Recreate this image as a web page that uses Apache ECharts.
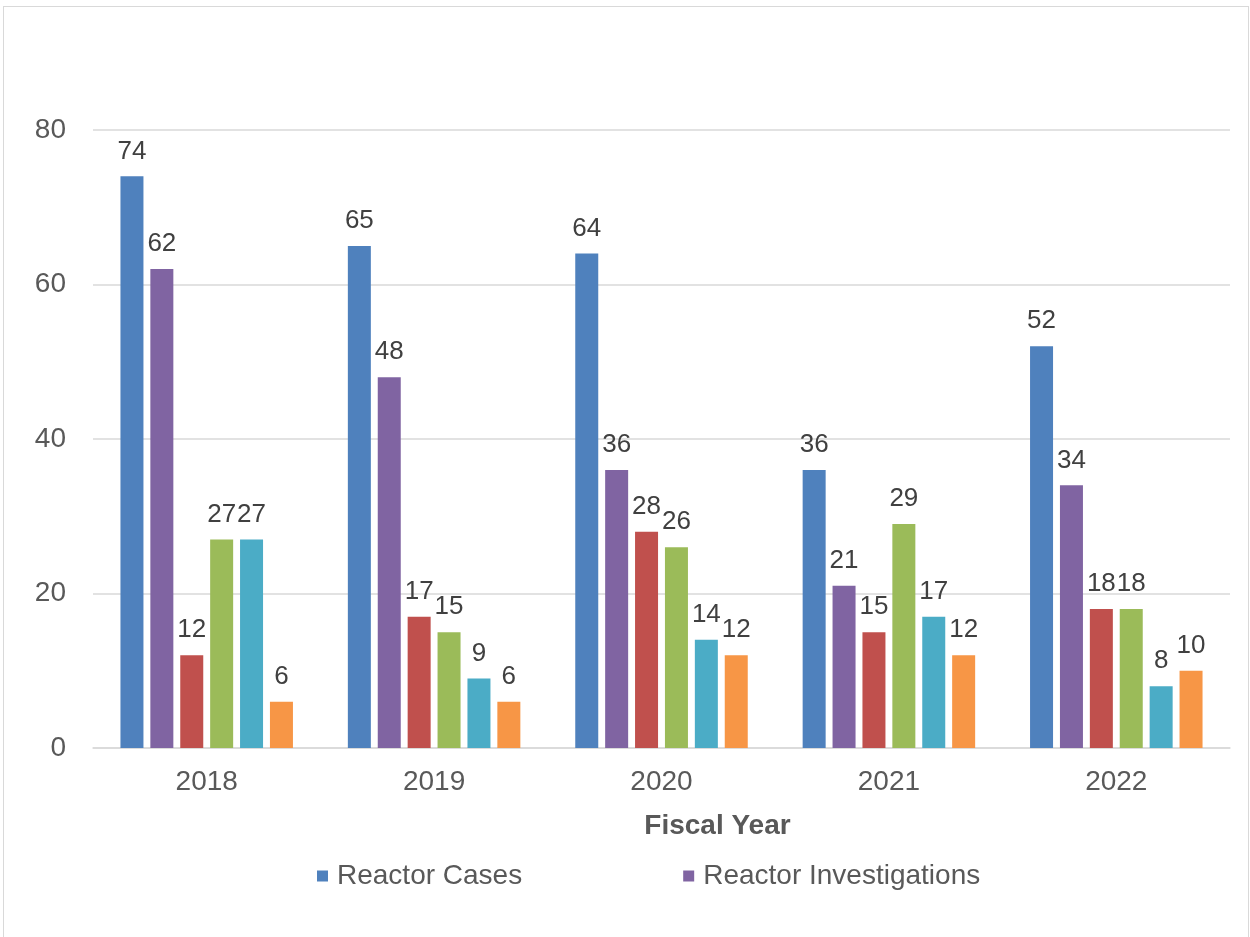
<!DOCTYPE html>
<html>
<head>
<meta charset="utf-8">
<title>Reactor Cases by Fiscal Year</title>
<script src="https://cdn.jsdelivr.net/npm/echarts@6/dist/echarts.min.js"></script>
<style>
  body { margin: 0; background: #fff; }
  #chart { position: absolute; left: 0; top: 0; width: 1250px; height: 937px; }
  .frame {
    position: absolute; left: 3px; top: 6px; width: 1244px; height: 940px;
    border: 1px solid #d9d9d9; pointer-events: none;
  }
</style>
</head>
<body>
<div id="chart"></div>
<div class="frame"></div>
<script>
const years = ['2018', '2019', '2020', '2021', '2022']

// only the first two series appear in the legend
const reactorCases = [74, 65, 64, 36, 52]
const reactorInvestigations = [62, 48, 36, 21, 34]
const series3 = [12, 17, 28, 15, 18]
const series4 = [27, 15, 26, 29, 18]
const series5 = [27, 9, 14, 17, 8]
const series6 = [6, 6, 12, 12, 10]

const yTicks = [0, 20, 40, 60, 80]

const seriesList = [
  { name: 'Reactor Cases', data: reactorCases, color: '#4F81BD' },
  { name: 'Reactor Investigations', data: reactorInvestigations, color: '#8064A2' },
  { name: 'Series 3', data: series3, color: '#C0504D' },
  { name: 'Series 4', data: series4, color: '#9BBB59' },
  { name: 'Series 5', data: series5, color: '#4BACC6' },
  { name: 'Series 6', data: series6, color: '#F79646' }
]

const chart = echarts.init(document.getElementById('chart'))

const option = {
  animation: false,
  textStyle: { fontFamily: 'Liberation Sans, Arial, sans-serif' },
  grid: { left: 93, right: 20, top: 130, bottom: 189 },
  legend: {
    data: ['Reactor Cases', 'Reactor Investigations'],
    left: 312,
    top: 857,
    itemWidth: 11,
    itemHeight: 11,
    itemGap: 161,
    icon: 'rect',
    textStyle: { fontSize: 28, color: '#595959', padding: [0, 0, 0, 4] }
  },
  xAxis: {
    type: 'category',
    data: years,
    name: 'Fiscal Year',
    nameLocation: 'middle',
    nameGap: 64,
    // title sits a bit right of the plot centre in the original
    nameTextStyle: { fontSize: 28, fontWeight: 'bold', color: '#595959', padding: [0, 0, 0, 112] },
    axisLine: { lineStyle: { color: '#d9d9d9', width: 1.5 } },
    axisTick: { show: false },
    axisLabel: { fontSize: 28, color: '#595959', margin: 20 }
  },
  yAxis: {
    type: 'value',
    min: yTicks[0],
    max: yTicks[yTicks.length - 1],
    interval: 20,
    axisLine: { show: false },
    axisTick: { show: false },
    axisLabel: { fontSize: 28, color: '#595959', margin: 27 },
    splitLine: { lineStyle: { color: '#d9d9d9', width: 1.5 } }
  },
  series: seriesList.map(s => ({
    name: s.name,
    type: 'bar',
    data: s.data,
    barWidth: 23,
    barGap: '30%',
    itemStyle: { color: s.color },
    label: {
      show: true,
      position: 'top',
      distance: 12,
      fontSize: 26,
      color: '#404040'
    }
  }))
}

chart.setOption(option)
</script>
</body>
</html>
